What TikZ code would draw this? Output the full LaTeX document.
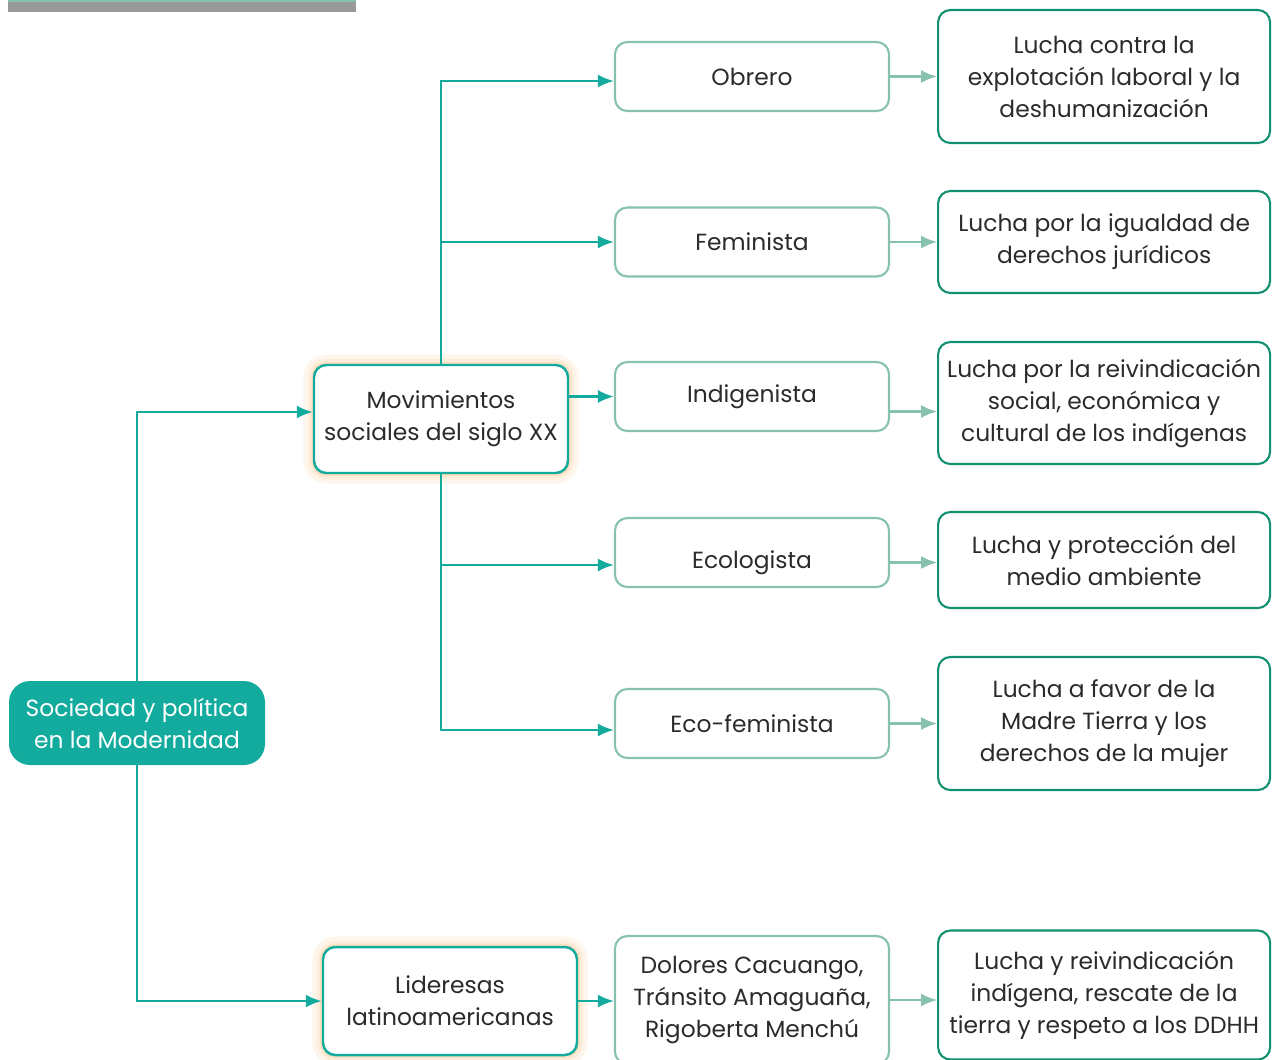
\documentclass[tikz,border=0pt]{standalone}
\usepackage{fontspec}
\setmainfont{Poppins}
\usepackage{tikz}
\usetikzlibrary{positioning, arrows.meta, backgrounds}
\definecolor{teal1}{HTML}{13AB9E}
\definecolor{mint}{HTML}{86C2AC}
\definecolor{deepgreen}{HTML}{12906F}
\definecolor{glow}{HTML}{FBCB98}
\definecolor{ink}{HTML}{2B2B2B}
\tikzstyle{root} = [rectangle, rounded corners=12pt, minimum width=5.12cm, minimum height=1.68cm, align=center, fill=teal1, text=white]
\tikzstyle{branch} = [rectangle, rounded corners=7pt, minimum width=5.08cm, minimum height=2.16cm, align=center, draw=teal1, line width=1.4pt, fill=white, text=ink,
  preaction={draw=glow!18, line width=12pt}, preaction={draw=glow!35, line width=7pt}, preaction={draw=glow!60, line width=3.5pt}]
\tikzstyle{movement} = [rectangle, rounded corners=7pt, minimum width=5.48cm, minimum height=1.38cm, align=center, draw=mint, line width=1.2pt, text=ink]
\tikzstyle{goal} = [rectangle, rounded corners=7pt, minimum width=6.64cm, align=center, draw=deepgreen, line width=1.2pt, text=ink]
\tikzstyle{arrow} = [line width=1.4pt, teal1, -{Latex[length=3.2mm, width=2.6mm]}]
\tikzstyle{softarrow} = [line width=1.2pt, mint, -{Latex[length=3.2mm, width=2.6mm]}]

\begin{document}
\begin{tikzpicture}[font=\fontsize{13.3}{18.2}\selectfont, node distance=0.94cm]
        \useasboundingbox (0,0) rectangle (25.44,-21.18);
        % top strip
        \fill[gray!80] (0.16,-0.04) rectangle (7.12,-0.24);
        \fill[mint] (0.16,0) rectangle (7.12,-0.04);

        \node (sociedad) [root] at (2.74,-14.46) {Sociedad y política\\en la Modernidad};
        \node (movimientos) [branch] at (8.82,-8.38) {Movimientos\\sociales del siglo XX};
        \node (lideresas) [branch] at (9.0,-20.02) {Lideresas\\latinoamericanas};

        \node (obrero) [movement] at (15.04,-1.53) {Obrero};
        \node (feminista) [movement] at (15.04,-4.84) {Feminista};
        \node (indigenista) [movement] at (15.04,-7.93) {Indigenista};
        \node (ecologista) [movement, text height=9pt, text depth=3pt] at (15.04,-11.05) {\raisebox{-6pt}{Ecologista}};
        \node (ecofeminista) [movement] at (15.04,-14.47) {Eco-feminista};
        \node (lideres) [movement, minimum height=2.56cm] at (15.04,-20.0) {Dolores Cacuango,\\Tránsito Amaguaña,\\Rigoberta Menchú};

        \node (laboral) [goal, minimum height=2.66cm, right=of obrero] {Lucha contra la\\explotación laboral y la\\deshumanización};
        \node (derechos) [goal, minimum height=2.04cm, right=of feminista] {Lucha por la igualdad de\\derechos jurídicos};
        \node (indigenas) [goal, minimum height=2.44cm, right=of indigenista, yshift=-0.13cm] {Lucha por la reivindicación\\social, económica y\\cultural de los indígenas};
        \node (ambiente) [goal, minimum height=1.92cm, right=of ecologista, yshift=-0.15cm] {Lucha y protección del\\medio ambiente};
        \node (tierra) [goal, minimum height=2.66cm, right=of ecofeminista] {Lucha a favor de la\\Madre Tierra y los\\derechos de la mujer};
        \node (ddhh) [goal, minimum height=2.58cm, right=of lideres, yshift=0.1cm] {Lucha y reivindicación\\indígena, rescate de la\\tierra y respeto a los DDHH};

        \coordinate (mov_in) at ([yshift=0.14cm]movimientos.west);
        \coordinate (obrero_in) at ([yshift=-0.09cm]obrero.west);
        \coordinate (ecolo_in) at ([yshift=-0.25cm]ecologista.west);
        \coordinate (ecofem_in) at ([yshift=-0.13cm]ecofeminista.west);
        \coordinate (indig_out) at ([yshift=-0.3cm]indigenista.east);
        \coordinate (ecolo_out) at ([yshift=-0.2cm]ecologista.east);

        \draw [arrow] (sociedad.north) |- (mov_in);
        \draw [arrow] (sociedad.south) |- (lideresas.west);
        \draw [arrow] (movimientos.north) |- (obrero_in);
        \draw [arrow] (movimientos.north) |- (feminista.west);
        \draw [arrow] (movimientos.east |- indigenista) -- (indigenista.west);
        \draw [arrow] (movimientos.south) |- (ecolo_in);
        \draw [arrow] (movimientos.south) |- (ecofem_in);
        \draw [arrow] (lideresas.east) -- (lideres.west |- lideresas.east);

        \draw [softarrow] (obrero.east) -- (laboral.west |- obrero.east);
        \draw [softarrow] (feminista.east) -- (derechos.west |- feminista.east);
        \draw [softarrow] (indig_out) -- (indigenas.west |- indig_out);
        \draw [softarrow] (ecolo_out) -- (ambiente.west |- ecolo_out);
        \draw [softarrow] (ecofeminista.east) -- (tierra.west |- ecofeminista.east);
        \draw [softarrow] (lideres.east) -- (ddhh.west |- lideres.east);

        \end{tikzpicture}
\end{document}
